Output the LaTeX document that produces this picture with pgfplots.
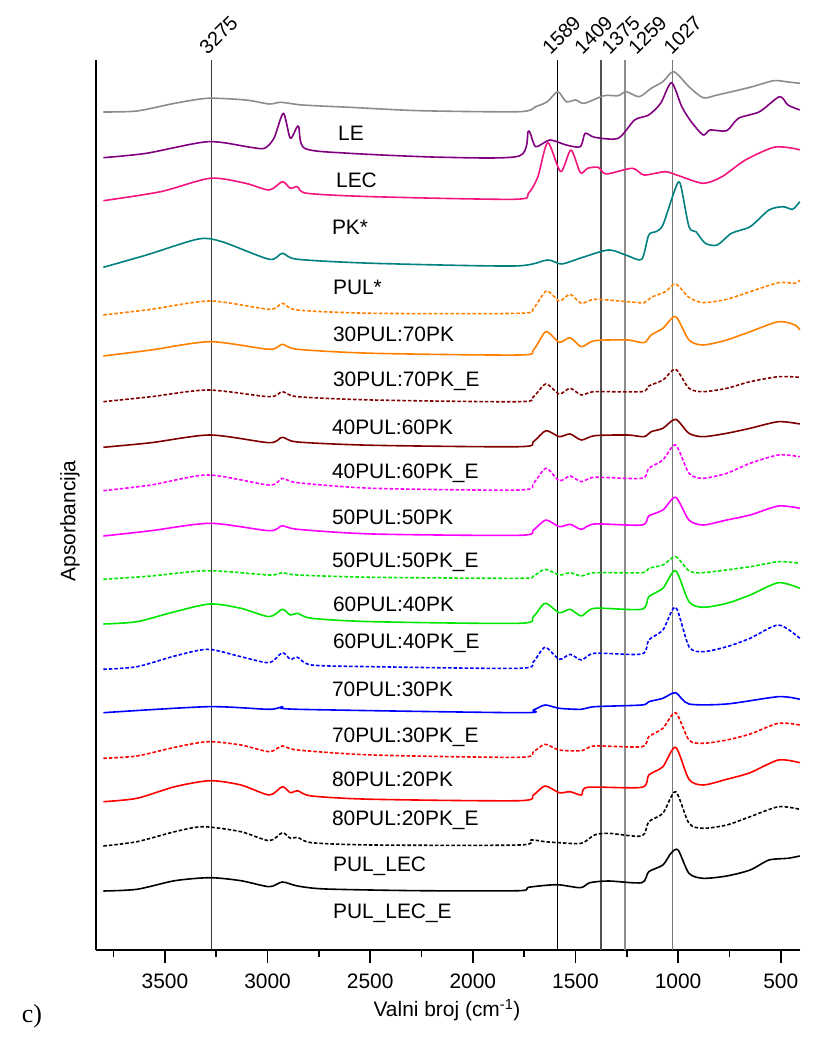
\documentclass[border=0pt]{standalone}
\usepackage{fontspec}
\setmainfont{Liberation Sans}
\newfontfamily\timesf{Liberation Serif}
\usepackage{pgfplots}
\pgfplotsset{compat=1.18}
\definecolor{cgray}{RGB}{140,140,140}
\definecolor{cpurple}{RGB}{128,0,128}
\definecolor{cpink}{RGB}{245,20,125}
\definecolor{cteal}{RGB}{0,128,128}
\definecolor{corange}{RGB}{255,128,0}
\definecolor{cdred}{RGB}{128,0,0}
\definecolor{cmag}{RGB}{255,0,255}
\definecolor{cgreen}{RGB}{0,230,0}
\definecolor{cblue}{RGB}{0,0,255}
\definecolor{cred}{RGB}{255,0,0}
\begin{document}
\begin{tikzpicture}[x=1bp,y=1bp]
\path[use as bounding box] (0,0) rectangle (836,1038);
\node[font=\timesf\fontsize{26}{30}\selectfont] at (32,22) {c)};
\node[rotate=90,font=\fontsize{21}{25}\selectfont] at (70,517) {Apsorbancija};
\node[font=\fontsize{21}{25}\selectfont] at (447,28) {Valni broj (cm\textsuperscript{-1})};
\begin{axis}[at={(96bp,88bp)}, anchor=south west, scale only axis,
  width=704bp, height=890bp,
  xmin=406, xmax=3836, ymin=0, ymax=890, x dir=reverse,
  axis x line=bottom, axis y line=none,
  x axis line style={-, line width=2bp},
  ytick=\empty,
  xtick={500,1000,...,3500}, minor xtick={750,1250,...,3750},
  tick align=outside, major tick length=13bp, minor tick length=7bp,
  every tick/.style={black, line width=1.6bp},
  xticklabel style={font=\fontsize{21}{25}\selectfont, yshift=-7bp},
  /pgf/number format/assume math mode=true, /pgf/number format/1000 sep={},
  clip=false,
  every axis plot/.append style={line width=1.6bp, line join=round, smooth, tension=0.45},
  dsh/.style={dash pattern=on 3.5bp off 2bp}]
\draw[line width=2.2bp] (axis cs:3836,0) -- (axis cs:3836,890);
% reference lines
\addplot[sharp plot, color={rgb,255:red,60;green,60;blue,60}, line width=1bp] coordinates {(3275,0) (3275,890)};
\addplot[sharp plot, black, line width=1.2bp] coordinates {(1589,0) (1589,890)};
\addplot[sharp plot, color={rgb,255:red,80;green,80;blue,80}, line width=1.6bp] coordinates {(1375,0) (1375,890)};
\addplot[sharp plot, color={rgb,255:red,140;green,140;blue,140}, line width=1.2bp] coordinates {(1259,0) (1259,890)};
\addplot[sharp plot, color={rgb,255:red,120;green,120;blue,120}, line width=1.2bp] coordinates {(1027,0) (1027,890)};
\tikzset{toplab/.style={rotate=45, anchor=south west, inner sep=0pt, font=\fontsize{20}{24}\selectfont}}
\node[toplab] at (axis cs:3291,894) {3275};
\node[toplab] at (axis cs:1620,894) {1589};
\node[toplab] at (axis cs:1464,894) {1409};
\node[toplab] at (axis cs:1332,894) {1375};
\node[toplab] at (axis cs:1201,894) {1259};
\node[toplab] at (axis cs:1030,894) {1027};
% 1 gray
\addplot[cgray] coordinates {(3800,838) (3636,839) (3452,846.7) (3291,851.7) (3107,850) (2992,846) (2935,847.7) (2831,845) (2602,842.7) (2257,839.3) (1774,838.3) (1694,843.3) (1637,848.3) (1586,858.3) (1545,848.3) (1499,850) (1457,846.7) (1361,854.3) (1292,854.3) (1253,858.3) (1189,853.3) (1131,861.7) (1074,868.3) (1021,878.3) (947,863.3) (878,852.3) (809,855) (649,862.7) (534,869.3) (465,868) (407,866.7)};
% 2 purple
\addplot[cpurple] coordinates {(3800,792.3) (3590,796.7) (3291,808.3) (3084,802.7) (3015,801.7) (2969,811.7) (2923,836.7) (2889,811.7) (2850,824) (2820,801.7) (2602,796.7) (2142,792.7) (1774,794) (1729,819) (1694,803.3) (1625,810) (1545,805) (1476,803.3) (1453,816.7) (1407,812.7) (1292,811.7) (1212,830) (1143,835) (1085,846.7) (1032,867.3) (982,843.3) (936,828.3) (878,815) (844,820) (763,819.3) (706,831.7) (603,838.3) (506,853.3) (465,845) (407,840)};
% 3 pink
\addplot[cpink] coordinates {(3800,749.3) (3521,758.3) (3280,771.7) (3107,766.7) (2992,760) (2928,768.3) (2889,761.7) (2854,763.3) (2808,756.7) (2487,753.3) (1798,750.7) (1729,756.7) (1683,773.3) (1635,807.3) (1572,778.3) (1522,800) (1476,777.3) (1441,781.7) (1389,782.7) (1350,776) (1223,781.7) (1166,775) (1062,778.3) (993,774) (878,766.7) (786,773.3) (672,790) (534,802.7) (442,801.7) (407,800)};
% 4 teal
\addplot[cteal] coordinates {(3800,682.7) (3590,695) (3337,711) (3222,708.3) (2992,690.7) (2928,696.7) (2854,690.7) (2487,686.7) (1798,684) (1637,690) (1568,686) (1464,692.7) (1338,700) (1246,694.3) (1177,690.7) (1143,715) (1108,718.3) (1074,725) (1016,760) (990,766.7) (947,723.3) (913,718.3) (867,706.7) (809,705) (740,716.7) (649,723.3) (557,740) (488,743.3) (442,740.7) (407,748.3)};
% 5 orange dashed
\addplot[corange, dsh] coordinates {(3800,635) (3567,640.7) (3280,649) (2992,640.7) (2928,646.7) (2854,640) (2487,636.7) (1774,636.7) (1705,641.7) (1641,659) (1579,649) (1526,655.7) (1471,646.7) (1407,650.7) (1246,648.3) (1166,647.3) (1131,652.7) (1062,658.3) (1012,666) (947,652.7) (878,647.3) (763,650.7) (649,658.3) (511,667.3) (430,666.7) (407,670)};
% 6 orange solid
\addplot[corange] coordinates {(3800,594) (3567,600) (3280,608.3) (2992,600.7) (2928,605.7) (2854,600.7) (2487,596.7) (1774,595) (1705,600) (1644,618.3) (1579,607.7) (1526,612.3) (1471,603.3) (1407,609.3) (1246,610) (1166,607.3) (1131,615) (1074,621.7) (1012,633.3) (947,610) (878,605) (763,610) (649,618.3) (511,628.3) (430,625) (407,620)};
% 7 dark red dashed
\addplot[cdred, dsh] coordinates {(3800,548.3) (3567,553.3) (3291,560) (2992,553.3) (2928,558.3) (2854,553.3) (2487,550) (1774,548.3) (1705,553.3) (1644,566) (1579,556) (1526,561.7) (1471,555) (1407,558.3) (1177,558.3) (1143,564) (1074,570) (1012,580.7) (947,561.7) (878,558.3) (763,561.7) (649,568.3) (511,573.3) (407,572.7)};
% 8 dark red solid
\addplot[cdred] coordinates {(3800,502.7) (3567,507.3) (3280,515) (2992,507.3) (2928,512.7) (2854,508) (2487,504.7) (1774,503.3) (1705,508.3) (1644,519.3) (1579,513.3) (1526,516) (1471,510) (1407,514.3) (1246,515) (1166,513.3) (1131,518.3) (1074,521.7) (1012,530.7) (947,516.7) (878,513.3) (763,516.7) (649,521.7) (511,528.3) (407,526)};
% 9 magenta dashed
\addplot[cmag, dsh] coordinates {(3800,459.3) (3567,465) (3291,475) (2992,465) (2928,471.7) (2854,467.3) (2487,461.7) (1774,460) (1705,466.7) (1644,481.7) (1579,469.3) (1526,474) (1471,468.3) (1407,472.7) (1177,471.7) (1143,481.7) (1074,490) (1012,505) (947,476.7) (878,471.7) (763,476.7) (649,486.7) (511,495) (407,493.3)};
% 10 magenta solid
\addplot[cmag] coordinates {(3800,414) (3567,419.3) (3280,426.7) (2992,419.3) (2928,424.3) (2854,420.7) (2487,416) (1774,414.7) (1705,420) (1644,430) (1579,423.3) (1526,425.7) (1471,420.7) (1407,426) (1177,425) (1143,434) (1074,440) (1012,452.7) (947,430) (878,425) (763,430) (649,435) (511,444) (407,441.7)};
% 11 green dashed
\addplot[cgreen, dsh] coordinates {(3800,370.7) (3567,374) (3291,379.3) (2992,375) (2928,377.3) (2854,375) (2487,372.7) (1774,371.7) (1705,374) (1648,380.7) (1579,375) (1526,377.3) (1471,374) (1407,377.3) (1177,377.3) (1143,381.7) (1074,385) (1012,393.3) (947,379.3) (878,377.3) (649,383.3) (511,388.3) (407,386.7)};
% 12 green solid
\addplot[cgreen] coordinates {(3800,326) (3636,328.3) (3452,338.3) (3280,346) (3130,341.7) (2992,333.3) (2928,340.7) (2889,335) (2854,336.7) (2785,331.7) (2487,328.3) (1774,326.7) (1705,333.3) (1648,346.7) (1579,337.3) (1526,340.7) (1471,334) (1407,341.7) (1177,340.7) (1143,353.3) (1074,361.7) (1012,379.3) (947,348.3) (878,342.7) (763,346.7) (649,355) (511,367.3) (407,361.7)};
% 13 blue dashed
\addplot[cblue, dsh] coordinates {(3800,280.7) (3636,283.3) (3452,294) (3291,300.7) (3130,293.3) (2992,287.3) (2928,297.3) (2889,290.7) (2854,292.7) (2785,285) (2487,283.3) (1774,281.7) (1705,288.3) (1648,302.7) (1579,290.7) (1526,295.7) (1471,290) (1407,296.7) (1177,296) (1143,310) (1074,320) (1012,342.7) (947,303.3) (878,298.3) (763,303.3) (649,311.7) (511,325) (407,311.7)};
% 14 blue solid
\addplot[cblue] coordinates {(3800,237.3) (3291,243.3) (2992,240.7) (2928,243.3) (2854,240.7) (1774,237.3) (1705,240) (1648,245) (1579,241.7) (1471,240.7) (1407,243.3) (1177,245) (1143,248.3) (1074,251.7) (1012,257.3) (947,246) (763,246) (511,253.3) (407,250.7)};
% 15 red dashed
\addplot[cred, dsh] coordinates {(3800,191.7) (3636,194) (3452,202.7) (3291,208.3) (3130,205) (2992,198.3) (2928,204) (2854,200) (2487,195) (1774,192.7) (1705,198.3) (1648,205.7) (1579,200) (1471,199.3) (1407,204) (1177,203.3) (1143,213.3) (1074,221.7) (1012,237.3) (947,210) (878,206.7) (763,210) (649,216) (511,226.7) (407,225)};
% 16 red solid
\addplot[cred] coordinates {(3800,148.3) (3636,151.7) (3452,163.3) (3280,169.3) (3130,165) (2992,155) (2928,163.3) (2889,157.3) (2854,159.3) (2785,154) (2487,150.7) (1774,149.3) (1705,155) (1648,164) (1579,157.3) (1526,158.3) (1471,155) (1441,162.7) (1177,162.7) (1143,175) (1074,183.3) (1012,202.7) (947,170.7) (878,165) (763,170.7) (649,177.3) (511,190) (407,187.3)};
% 17 black dashed
\addplot[black, dsh] coordinates {(3800,104) (3636,108.3) (3452,118.3) (3314,123.3) (3130,118.3) (2992,109.3) (2928,117.3) (2889,111.7) (2854,112.7) (2785,107.3) (2487,105) (1774,105) (1717,110) (1648,108.3) (1579,107.3) (1471,106.7) (1407,115) (1338,116.7) (1177,114) (1143,128.3) (1074,136.7) (1012,158.3) (947,126.7) (878,121.7) (763,125) (649,133.3) (511,143.3) (407,140.7)};
% 18 black solid
\addplot[black] coordinates {(3800,59) (3636,60.7) (3452,69.3) (3280,72.3) (3130,69.3) (2992,63.3) (2928,68) (2854,64) (2716,61) (2257,59.3) (1774,59.3) (1729,62.7) (1591,65.3) (1476,62.3) (1430,67.3) (1338,69) (1177,67.3) (1143,78.3) (1074,85) (1035,96.7) (1000,100) (947,76.7) (878,71.7) (763,74) (649,80) (557,90) (465,91.7) (407,94)};
% labels
\tikzset{lab/.style={anchor=west, inner sep=0pt, font=\fontsize{21}{25}\selectfont}}
\node[lab] at (axis cs:2657,817) {LE};
\node[lab] at (axis cs:2667,770) {LEC};
\node[lab] at (axis cs:2687,723) {PK*};
\node[lab] at (axis cs:2682,663) {PUL*};
\node[lab] at (axis cs:2682,616) {30PUL:70PK};
\node[lab] at (axis cs:2682,569) {30PUL:70PK\_E};
\node[lab] at (axis cs:2687,523) {40PUL:60PK};
\node[lab] at (axis cs:2687,477) {40PUL:60PK\_E};
\node[lab] at (axis cs:2687,433) {50PUL:50PK};
\node[lab] at (axis cs:2687,388) {50PUL:50PK\_E};
\node[lab] at (axis cs:2682,346) {60PUL:40PK};
\node[lab] at (axis cs:2682,307) {60PUL:40PK\_E};
\node[lab] at (axis cs:2687,261) {70PUL:30PK};
\node[lab] at (axis cs:2687,213) {70PUL:30PK\_E};
\node[lab] at (axis cs:2687,171) {80PUL:20PK};
\node[lab] at (axis cs:2687,130) {80PUL:20PK\_E};
\node[lab] at (axis cs:2682,84) {PUL\_LEC};
\node[lab] at (axis cs:2682,37) {PUL\_LEC\_E};
\end{axis}
\end{tikzpicture}
\end{document}
